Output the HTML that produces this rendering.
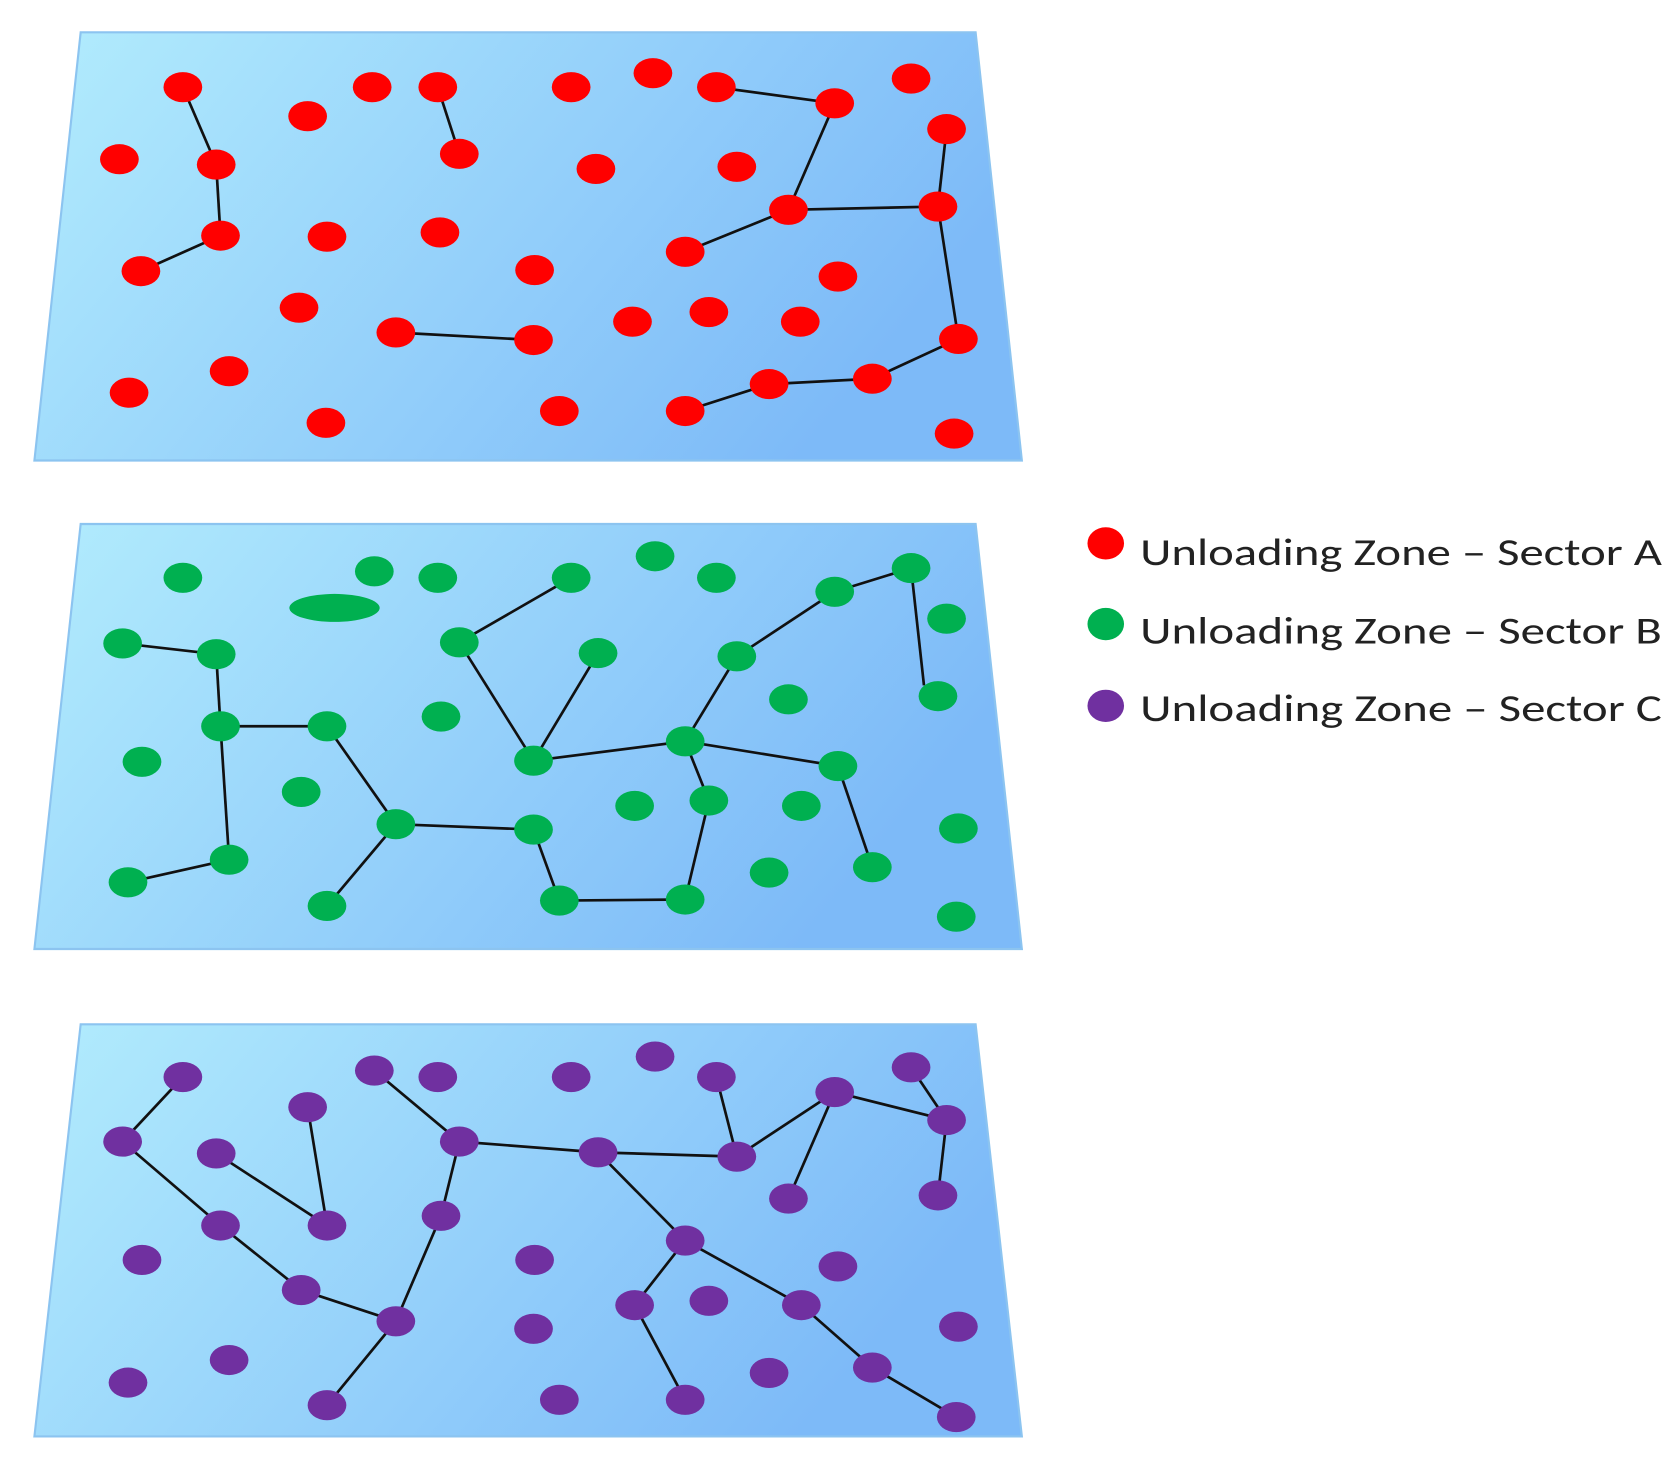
<!DOCTYPE html>
<html><head><meta charset="utf-8"><style>html,body{margin:0;padding:0;background:#fff}svg{display:block}</style></head>
<body>
<svg width="1678" height="1459" viewBox="0 0 1560 1356" preserveAspectRatio="none" xmlns="http://www.w3.org/2000/svg">
<defs>
<linearGradient id="g" x1="0" y1="0" x2="1" y2="0.35">
<stop offset="0" stop-color="#b2ecfd"/><stop offset="1" stop-color="#7dbaf8"/>
</linearGradient>
</defs>
<g stroke="#8cc4f0" stroke-width="2" fill="url(#g)">
<polygon points="75,30 907,30 950,428 32,428"/>
<polygon points="75,487 907,487 950,882 32,882"/>
<polygon points="75,952 907,952 950,1335 32,1335"/>
</g>
<g stroke="#111" stroke-width="2.5" fill="none" id="edges"></g>
<g id="nodes"></g>
<g font-family="Carlito, 'Liberation Sans', sans-serif" font-size="35" fill="#222">
<ellipse cx="1028" cy="505" rx="17" ry="15" fill="#ff0000"/>
<ellipse cx="1028" cy="580" rx="17" ry="15" fill="#00b050"/>
<ellipse cx="1028" cy="656" rx="17" ry="15" fill="#7030a0"/>
<text x="1060" y="525" textLength="485" lengthAdjust="spacingAndGlyphs">Unloading Zone – Sector A</text>
<text x="1060" y="598" textLength="485" lengthAdjust="spacingAndGlyphs">Unloading Zone – Sector B</text>
<text x="1060" y="670" textLength="485" lengthAdjust="spacingAndGlyphs">Unloading Zone – Sector C</text>
</g>
<script>
var NS="http://www.w3.org/2000/svg";
var R=[[170,81],[286,108],[346,81],[407,81],[531,81],[607,68],[666,81],[776,96],[847,73],[111,148],[201,153],[427,143],[554,157],[685,155],[880,120],[205,219],[304,220],[409,216],[733,195],[872,192],[131,252],[497,251],[637,234],[779,257],[278,286],[368,309],[496,316],[588,299],[659,290],[744,299],[891,315],[213,345],[120,365],[715,357],[811,352],[303,393],[520,382],[637,382],[887,403]];
var RE=[[170,81,201,153],[201,153,205,219],[205,219,131,252],[407,81,427,143],[368,309,496,316],[666,81,776,96],[776,96,733,195],[733,195,872,192],[733,195,637,234],[880,120,872,192],[872,192,891,315],[891,315,811,352],[811,352,715,357],[715,357,637,382]];
var G=[[170,537],[348,531],[407,537],[531,537],[609,517],[666,537],[847,528],[776,550],[880,575],[114,598],[201,608],[427,597],[556,607],[685,610],[872,647],[733,650],[205,675],[304,675],[410,666],[132,708],[496,707],[637,689],[779,712],[280,736],[590,749],[659,744],[745,749],[368,766],[496,771],[891,770],[213,799],[119,820],[715,811],[811,806],[304,842],[520,837],[637,836],[889,852]];
var GE=[[114,598,201,608],[201,608,205,675],[205,675,304,675],[205,675,213,799],[213,799,119,820],[304,675,368,766],[368,766,496,771],[368,766,304,842],[427,597,531,537],[427,597,496,707],[556,607,496,707],[496,707,637,689],[637,689,685,610],[685,610,776,550],[776,550,847,528],[847,528,859,637],[637,689,779,712],[779,712,811,806],[637,689,659,744],[659,744,637,836],[637,836,520,837],[520,837,496,771]];
var P=[[170,1001],[348,995],[407,1001],[531,1001],[609,982],[666,1001],[847,992],[776,1015],[880,1041],[286,1029],[114,1061],[201,1072],[427,1061],[556,1071],[685,1075],[733,1114],[872,1111],[205,1139],[304,1139],[410,1130],[132,1171],[497,1171],[637,1153],[779,1177],[280,1199],[368,1228],[590,1213],[659,1209],[745,1213],[496,1235],[891,1233],[213,1264],[119,1285],[715,1276],[811,1271],[304,1306],[520,1301],[637,1301],[889,1317]];
var PE=[[170,1001,114,1061],[114,1061,205,1139],[205,1139,280,1199],[280,1199,368,1228],[368,1228,304,1306],[368,1228,410,1130],[410,1130,427,1061],[201,1072,304,1139],[286,1029,304,1139],[348,995,427,1061],[427,1061,556,1071],[556,1071,685,1075],[556,1071,637,1153],[637,1153,590,1213],[590,1213,637,1301],[637,1153,745,1213],[745,1213,811,1271],[811,1271,889,1317],[666,1001,685,1075],[685,1075,776,1015],[776,1015,733,1114],[776,1015,880,1041],[847,992,880,1041],[880,1041,872,1111]];
var eg=document.getElementById("edges"),ng=document.getElementById("nodes");
[RE,GE,PE].forEach(function(L){L.forEach(function(e){var l=document.createElementNS(NS,"line");l.setAttribute("x1",e[0]);l.setAttribute("y1",e[1]);l.setAttribute("x2",e[2]);l.setAttribute("y2",e[3]);eg.appendChild(l);});});
function dots(A,c){A.forEach(function(p){var el=document.createElementNS(NS,"ellipse");el.setAttribute("cx",p[0]);el.setAttribute("cy",p[1]);el.setAttribute("rx",18);el.setAttribute("ry",14);el.setAttribute("fill",c);ng.appendChild(el);});}
dots(R,"#ff0000");dots(G,"#00b050");dots(P,"#7030a0");
var b=document.createElementNS(NS,"ellipse");b.setAttribute("cx",311);b.setAttribute("cy",565);b.setAttribute("rx",42);b.setAttribute("ry",13);b.setAttribute("fill","#00b050");ng.appendChild(b);
</script>
</svg>
</body></html>
